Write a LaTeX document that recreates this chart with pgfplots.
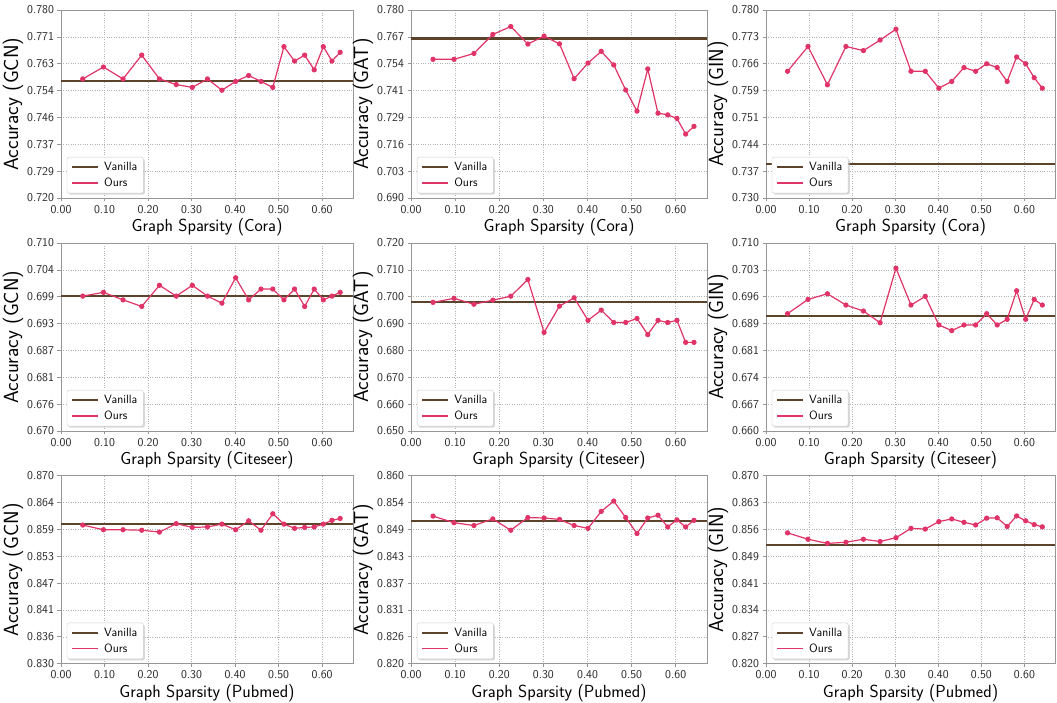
\documentclass[border=0pt]{standalone}
\usepackage{pgfplots}
\pgfplotsset{compat=1.18}
\usepackage{pgfplotstable}
\usetikzlibrary{shadows}
\definecolor{vanilla}{RGB}{92,68,44}
\definecolor{ours}{RGB}{224,52,104}
\definecolor{spine}{RGB}{150,150,150}
\makeatletter
\tikzset{nopre/.code={\let\tikz@preactions\pgfutil@empty}}
\makeatother

\pgfplotstableread{
x gcn gat gin
0.0500 0.7580 0.7564 0.7637
0.0975 0.7618 0.7564 0.7703
0.1426 0.7580 0.7592 0.7601
0.1855 0.7656 0.7683 0.7703
0.2262 0.7580 0.7721 0.7692
0.2649 0.7562 0.7637 0.7720
0.3017 0.7553 0.7675 0.7749
0.3366 0.7580 0.7638 0.7637
0.3698 0.7544 0.7471 0.7637
0.4013 0.7572 0.7546 0.7592
0.4312 0.7591 0.7602 0.7610
0.4596 0.7572 0.7537 0.7647
0.4867 0.7553 0.7417 0.7637
0.5123 0.7683 0.7316 0.7657
0.5367 0.7637 0.7518 0.7647
0.5599 0.7656 0.7306 0.7610
0.5819 0.7609 0.7298 0.7675
0.6028 0.7683 0.7281 0.7657
0.6226 0.7637 0.7206 0.7620
0.6415 0.7665 0.7243 0.7592
}\cora

\pgfplotstableread{
x gcn gat gin
0.0500 0.6987 0.6979 0.6912
0.0975 0.6995 0.6994 0.6950
0.1426 0.6979 0.6972 0.6965
0.1855 0.6965 0.6987 0.6935
0.2262 0.7010 0.7002 0.6919
0.2649 0.6987 0.7064 0.6888
0.3017 0.7010 0.6867 0.7033
0.3366 0.6987 0.6965 0.6935
0.3698 0.6972 0.6996 0.6958
0.4013 0.7026 0.6912 0.6882
0.4312 0.6979 0.6950 0.6867
0.4596 0.7002 0.6904 0.6882
0.4867 0.7002 0.6904 0.6882
0.5123 0.6979 0.6919 0.6912
0.5367 0.7002 0.6859 0.6882
0.5599 0.6965 0.6912 0.6897
0.5819 0.7002 0.6904 0.6973
0.6028 0.6979 0.6912 0.6897
0.6226 0.6987 0.6830 0.6950
0.6415 0.6995 0.6830 0.6935
}\citeseer

\pgfplotstableread{
x gcn gat gin
0.0500 0.8595 0.8514 0.8548
0.0975 0.8585 0.8500 0.8531
0.1426 0.8585 0.8494 0.8520
0.1855 0.8584 0.8508 0.8523
0.2262 0.8580 0.8484 0.8531
0.2649 0.8598 0.8511 0.8525
0.3017 0.8590 0.8510 0.8535
0.3366 0.8591 0.8507 0.8560
0.3698 0.8597 0.8494 0.8558
0.4013 0.8585 0.8488 0.8578
0.4312 0.8604 0.8524 0.8585
0.4596 0.8584 0.8546 0.8576
0.4867 0.8619 0.8511 0.8569
0.5123 0.8597 0.8477 0.8587
0.5367 0.8588 0.8510 0.8588
0.5599 0.8590 0.8516 0.8565
0.5819 0.8591 0.8491 0.8593
0.6028 0.8597 0.8506 0.8580
0.6226 0.8605 0.8491 0.8570
0.6415 0.8609 0.8505 0.8564
}\pubmed

\pgfplotsset{
  base/.style={
    scale only axis, height=188pt,
    xmin=0, xmax=0.671,
    xtick={0,0.1,0.2,0.3,0.4,0.5,0.6},
    scaled x ticks=false, scaled y ticks=false,
    xticklabel style={/pgf/number format/.cd, fixed, fixed zerofill, precision=2, assume math mode=true},
    yticklabel style={/pgf/number format/.cd, fixed, fixed zerofill, precision=3, assume math mode=true},
    ticklabel style={font=\fontsize{12}{12}\sffamily, text=black!85},
    xlabel style={font=\fontsize{17.5}{17.5}\sffamily},
    ylabel style={font=\fontsize{20.5}{20.5}\sffamily},
    grid=major,
    major grid style={dotted, gray!60, line width=0.6pt},
    axis line style={spine, line width=0.7pt},
    tick style={spine, line width=0.7pt},
    tick align=outside, tick pos=left, major tick length=3.5pt,
    xlabel shift=-2pt,
    ylabel shift=-3pt,
    legend style={at={(0.02,0.025)}, anchor=south west,
      draw=gray!40, rounded corners=2pt, fill=white,
      font=\fontsize{12}{12}\sffamily,
      drop shadow={shadow xshift=1.6pt, shadow yshift=-1.6pt, fill=gray!60},
      inner xsep=4pt, inner ysep=3pt, row sep=2pt, column sep=3pt},
    legend cell align=left,
    legend image code/.code={\draw[nopre, ##1] (0pt,0pt) -- (26pt,0pt);},
  },
  van/.style={vanilla, line width=2.2pt},
  our/.style={ours, line width=1.2pt, mark=*, mark size=2pt, mark options={solid, fill=ours, draw=ours}},
}
\newcommand{\leg}{%
  \addlegendimage{vanilla, line width=2.2pt}\addlegendentry{Vanilla}
  \addlegendimage{ours, line width=1.3pt}\addlegendentry{Ours}}

\begin{document}
\begin{tikzpicture}
\useasboundingbox (0,0) rectangle (1057pt,702pt);
% Row 1 Cora
\begin{axis}[base, at={(61pt,504pt)}, anchor=south west, width=292pt,
  ymin=0.72, ymax=0.78,
  ytick={0.72,0.728571,0.737143,0.745714,0.754286,0.762857,0.771429,0.78},
  xlabel={Graph Sparsity (Cora)}, ylabel={Accuracy (GCN)}]
\leg
\addplot[van, forget plot] coordinates {(0,0.7573) (0.671,0.7573)};
\addplot[our, forget plot] table[x=x, y=gcn] {\cora};
\end{axis}
\begin{axis}[base, at={(411pt,504pt)}, anchor=south west, width=296pt,
  ymin=0.69, ymax=0.78,
  ytick={0.69,0.702857,0.715714,0.728571,0.741429,0.754286,0.767143,0.78},
  xlabel={Graph Sparsity (Cora)}, ylabel={Accuracy (GAT)}]
\leg
\addplot[van, forget plot] coordinates {(0,0.7664) (0.671,0.7664)};
\addplot[our, forget plot] table[x=x, y=gat] {\cora};
\end{axis}
\begin{axis}[base, at={(766pt,504pt)}, anchor=south west, width=289pt,
  ymin=0.73, ymax=0.78,
  ytick={0.73,0.737143,0.744286,0.751429,0.758571,0.765714,0.772857,0.78},
  xlabel={Graph Sparsity (Cora)}, ylabel={Accuracy (GIN)}]
\leg
\addplot[van, forget plot] coordinates {(0,0.7390) (0.671,0.7390)};
\addplot[our, forget plot] table[x=x, y=gin] {\cora};
\end{axis}
% Row 2 Citeseer
\begin{axis}[base, at={(61pt,271pt)}, anchor=south west, width=292pt,
  ymin=0.67, ymax=0.71,
  ytick={0.67,0.675714,0.681429,0.687143,0.692857,0.698571,0.704286,0.71},
  xlabel={Graph Sparsity (Citeseer)}, ylabel={Accuracy (GCN)}]
\leg
\addplot[van, forget plot] coordinates {(0,0.6987) (0.671,0.6987)};
\addplot[our, forget plot] table[x=x, y=gcn] {\citeseer};
\end{axis}
\begin{axis}[base, at={(411pt,271pt)}, anchor=south west, width=296pt,
  ymin=0.65, ymax=0.72,
  ytick={0.65,0.66,0.67,0.68,0.69,0.70,0.71,0.72},
  xlabel={Graph Sparsity (Citeseer)}, ylabel={Accuracy (GAT)}]
\leg
\addplot[van, forget plot] coordinates {(0,0.6979) (0.671,0.6979)};
\addplot[our, forget plot] table[x=x, y=gat] {\citeseer};
\end{axis}
\begin{axis}[base, at={(766pt,271pt)}, anchor=south west, width=289pt,
  ymin=0.66, ymax=0.71,
  ytick={0.66,0.667143,0.674286,0.681429,0.688571,0.695714,0.702857,0.71},
  xlabel={Graph Sparsity (Citeseer)}, ylabel={Accuracy (GIN)}]
\leg
\addplot[van, forget plot] coordinates {(0,0.6905) (0.671,0.6905)};
\addplot[our, forget plot] table[x=x, y=gin] {\citeseer};
\end{axis}
% Row 3 Pubmed
\begin{axis}[base, at={(61pt,38.3pt)}, anchor=south west, width=292pt,
  ymin=0.83, ymax=0.87,
  ytick={0.83,0.835714,0.841429,0.847143,0.852857,0.858571,0.864286,0.87},
  xlabel={Graph Sparsity (Pubmed)}, ylabel={Accuracy (GCN)}]
\leg
\addplot[van, forget plot] coordinates {(0,0.8597) (0.671,0.8597)};
\addplot[our, forget plot] table[x=x, y=gcn] {\pubmed};
\end{axis}
\begin{axis}[base, at={(411pt,38.3pt)}, anchor=south west, width=296pt,
  ymin=0.82, ymax=0.86,
  ytick={0.82,0.825714,0.831429,0.837143,0.842857,0.848571,0.854286,0.86},
  xlabel={Graph Sparsity (Pubmed)}, ylabel={Accuracy (GAT)}]
\leg
\addplot[van, forget plot] coordinates {(0,0.8504) (0.671,0.8504)};
\addplot[our, forget plot] table[x=x, y=gat] {\pubmed};
\end{axis}
\begin{axis}[base, at={(766pt,38.3pt)}, anchor=south west, width=289pt,
  ymin=0.82, ymax=0.87,
  ytick={0.82,0.827143,0.834286,0.841429,0.848571,0.855714,0.862857,0.87},
  xlabel={Graph Sparsity (Pubmed)}, ylabel={Accuracy (GIN)}]
\leg
\addplot[van, forget plot] coordinates {(0,0.8515) (0.671,0.8515)};
\addplot[our, forget plot] table[x=x, y=gin] {\pubmed};
\end{axis}
\end{tikzpicture}
\end{document}
